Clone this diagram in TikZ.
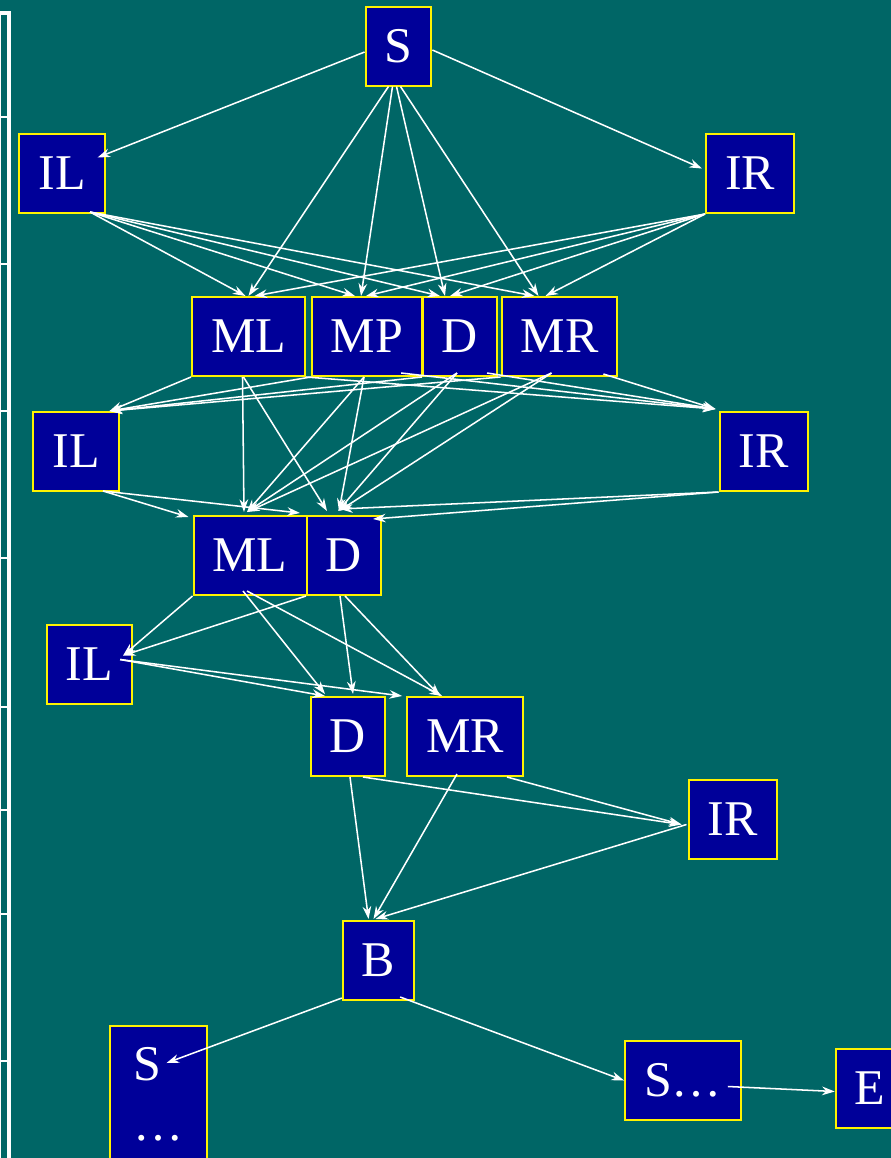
\documentclass[tikz,border=0pt]{standalone}
\usepackage{fontspec}
\setmainfont{Liberation Serif}
\usetikzlibrary{calc,arrows.meta}
\definecolor{bgteal}{RGB}{0,102,102}
\definecolor{boxblue}{RGB}{0,0,153}
\tikzset{
  statebox/.style={draw=yellow, fill=boxblue, line width=1.5pt, text=white,
    font=\fontsize{37.5}{45}\selectfont, inner xsep=14.25pt, inner ysep=0pt,
    minimum height=59.25pt},
  tr/.style={->, white, line width=1.15pt}
}
\begin{document}
\begin{tikzpicture}[x=0.75pt, y=-0.75pt, >={Stealth[length=9.5pt, width=6.5pt]}]
  \useasboundingbox (0,0) rectangle (891,1158);
  \fill[bgteal] (0,0) rectangle (891,1158);

  % 1. left frame
  \draw[white, line width=2.4pt] (0,13) -- (9,13) -- (9,1160);
  \draw[white, line width=0.6pt] (0.5,13) -- (0.5,1160);
  \foreach \yy in {117,264,411,558,707,810,914,1061}
    \draw[white, line width=1.4pt] (0,\yy) -- (9,\yy);

  % 2. states
  \node[statebox] (S1) at (398.5,46) {S};
  \node[statebox] (IL1) at (62,173.5) {IL};
  \node[statebox] (IR1) at (750,173.5) {IR};
  \node[statebox] (ML1) at (248.5,336.5) {ML};
  \node[statebox] (MP1) at (367,336.5) {MP};
  \node[statebox] (D1) at (460,336.5) {D};
  \node[statebox] (MR1) at (559.5,336.5) {MR};
  \node[statebox] (IL2) at (76,451.5) {IL};
  \node[statebox] (IR2) at (763.5,451.5) {IR};
  \node[statebox] (ML2) at (250,555.5) {ML};
  \node[statebox] (D2) at (344,555.5) {D};
  \node[statebox] (IL3) at (89.5,664.5) {IL};
  \node[statebox] (D3) at (348,736.5) {D};
  \node[statebox] (MR3) at (465,736.5) {MR};
  \node[statebox] (IR3) at (732.5,819.5) {IR};
  \node[statebox] (B) at (378.5,960.5) {B};
  \node[statebox, anchor=north west, minimum width=72.75pt, minimum height=102pt,
    align=left] (S2) at (109,1025) {S\\\dots};
  \node[statebox] (S3) at (683,1080.5) {S\dots};
  \node[statebox] (E) at (870,1088.5) {E};

  % 3. start node
  \draw[tr] ($(S1.west)+(0,6)$) -- ($(IL1.east)+(-8,-16)$);
  \draw[tr] ($(S1.east)+(0,4)$) -- ($(IR1.west)+(-3,-5)$);
  \draw[tr] ($(S1.south)+(-10,0)$) -- (ML1.north);
  \draw[tr] ($(S1.south)+(-6,0)$) -- ($(MP1.north)+(-6,0)$);
  \draw[tr] ($(S1.south)+(-2,0)$) -- ($(D1.north)+(-15,0)$);
  \draw[tr] ($(S1.south)+(2,0)$) -- ($(MR1.north)+(-21,0)$);
  \foreach \t/\dx in {ML1/-3, MP1/-12, D1/-20, MR1/-25}
    \draw[tr] ($(IL1.south)+(28,-2)$) -- ($(\t.north)+(\dx,0)$);
  \foreach \t/\dx in {ML1/6, MP1/-1, D1/-10, MR1/-14}
    \draw[tr] (IR1.south west) -- ($(\t.north)+(\dx,0)$);

  % 4. first pair node
  \foreach \s in {ML1, MP1, D1, MR1}
    \draw[tr] (\s.south west) -- ($(IL2.north east)+(-10,0)$);
  \draw[tr] (ML1.south east) -- ($(IR2.north west)+(-3,-2)$);
  \draw[tr] ($(MP1.south east)+(-22,-4)$) -- ($(IR2.north west)+(-3,-2)$);
  \draw[tr] ($(D1.south east)+(-11,-4)$) -- ($(IR2.north west)+(-3,-2)$);
  \draw[tr] ($(MR1.south east)+(-15,-3)$) -- ($(IR2.north west)+(-3,-2)$);
  \draw[tr] ($(ML1.south)+(-6,0)$) -- ($(ML2.north)+(-6,-3)$);
  \draw[tr] ($(MP1.south)+(-3,0)$) -- ($(ML2.north)+(-3,-3)$);
  \draw[tr] ($(D1.south)+(-3,-4)$) -- ($(ML2.north)+(-3,-3)$);
  \draw[tr] ($(MR1.south)+(-8,-4)$) -- ($(ML2.north)+(-3,-3)$);
  \draw[tr] ($(ML1.south)+(-5,0)$) -- ($(D2.north)+(-17,-4)$);
  \draw[tr] ($(MP1.south)+(-3,0)$) -- ($(D2.north)+(-5,-4)$);
  \draw[tr] ($(D1.south)+(-3,-4)$) -- ($(D2.north)+(-6,-4)$);
  \draw[tr] ($(MR1.south)+(-8,-4)$) -- ($(D2.north)+(-5,-4)$);
  \draw[tr] ($(IL2.south)+(27,-1)$) -- ($(ML2.north west)+(-4,2)$);
  \draw[tr] ($(IL2.south)+(27,-1)$) -- ($(D2.north west)+(-6,-2)$);
  \draw[tr] (IR2.south west) -- ($(D2.north)+(-4,-6)$);
  \draw[tr] (IR2.south west) -- ($(D2.north east)+(-9,4)$);

  % 5. left node
  \draw[tr] (ML2.south west) -- ($(IL3.east)+(-10,-9)$);
  \draw[tr] (D2.south west) -- ($(IL3.east)+(-10,-9)$);
  \draw[tr] ($(ML2.south)+(-7,-5)$) -- ($(D3.north)+(-23,-2)$);
  \draw[tr] ($(ML2.south)+(-3,-5)$) -- ($(MR3.north)+(-23,0)$);
  \draw[tr] ($(D2.south)+(-4,0)$) -- ($(D3.north)+(5,-2)$);
  \draw[tr] ($(D2.south)+(1,0)$) -- ($(MR3.north)+(-25,0)$);
  \draw[tr] ($(IL3.east)+(-13,-5)$) -- ($(D3.north)+(-23,0)$);
  \draw[tr] ($(IL3.east)+(-13,-5)$) -- ($(MR3.north west)+(-4,0)$);

  % 6. right node
  \draw[tr] ($(D3.south)+(2,0)$) -- ($(B.north)+(-10,-1)$);
  \draw[tr] ($(D3.south)+(15,0)$) -- ($(IR3.west)+(-6,5)$);
  \draw[tr] ($(MR3.south)+(-8,-3)$) -- ($(B.north)+(-5,-1)$);
  \draw[tr] ($(MR3.south)+(42,0)$) -- ($(IR3.west)+(-6,5)$);
  \draw[tr] ($(IR3.west)+(-1,5)$) -- ($(B.north)+(-3,-1)$);

  % 7. bifurcation
  \draw[tr] ($(B.south west)+(0,-3)$) -- ($(S2.north)+(8,38)$);
  \draw[tr] ($(B.south east)+(-15,-4)$) -- (S3.west);
  \draw[tr] ($(S3.east)+(-14,6)$) -- ($(E.west)+(0,3)$);
\end{tikzpicture}
\end{document}
